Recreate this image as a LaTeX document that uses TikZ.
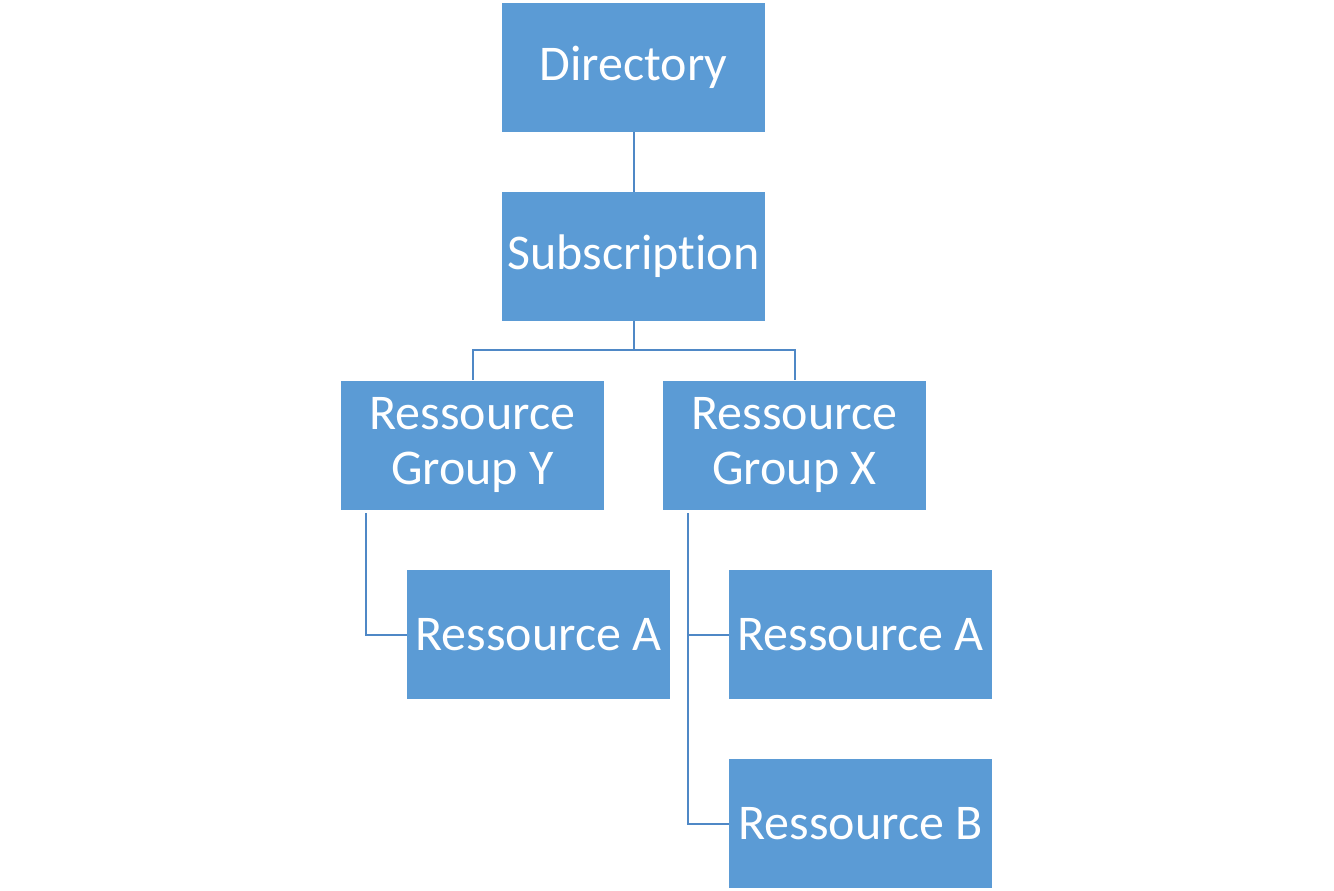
\documentclass[tikz,border=0pt]{standalone}
\usepackage{fontspec}
\setmainfont{Carlito}[Ligatures=NoCommon]
\definecolor{boxblue}{HTML}{5B9BD5}
\definecolor{lineblue}{HTML}{4F88C6}
\begin{document}
\begin{tikzpicture}[x=1pt,y=-1pt,
  box/.style={draw=none,fill=boxblue,minimum width=263pt,minimum height=129pt,text=white,
    font=\fontsize{50}{55}\selectfont,align=center,inner sep=0pt},
  conn/.style={draw=lineblue,line width=2pt}]
\useasboundingbox (0,0) rectangle (1334,891);
\node[box] (dir) at (633.5,67.5) {Directory};
\node[box] (sub) at (633.5,256.5) {Subscription};
\node[box] (gy) at (472.5,445) {Ressource\\Group Y};
\node[box] (gx) at (794.5,445) {Ressource\\Group X};
\node[box] (ya) at (538.5,634.5) {Ressource A};
\node[box] (xa) at (860.5,634.5) {Ressource A};
\node[box] (xb) at (860.5,823.5) {Ressource B};
\coordinate (ys) at (366,513);
\coordinate (xs) at (688,513);
\draw[conn] (dir.south) -- (sub.north);
\draw[conn] (sub.south) -- ++(0,29) -| (gy.north);
\draw[conn] (sub.south) -- ++(0,29) -| (gx.north);
\draw[conn] (ys) |- (ya.west);
\draw[conn] (xs) |- (xb.west);
\draw[conn] (xs |- xa.west) -- (xa.west);
\end{tikzpicture}
\end{document}
